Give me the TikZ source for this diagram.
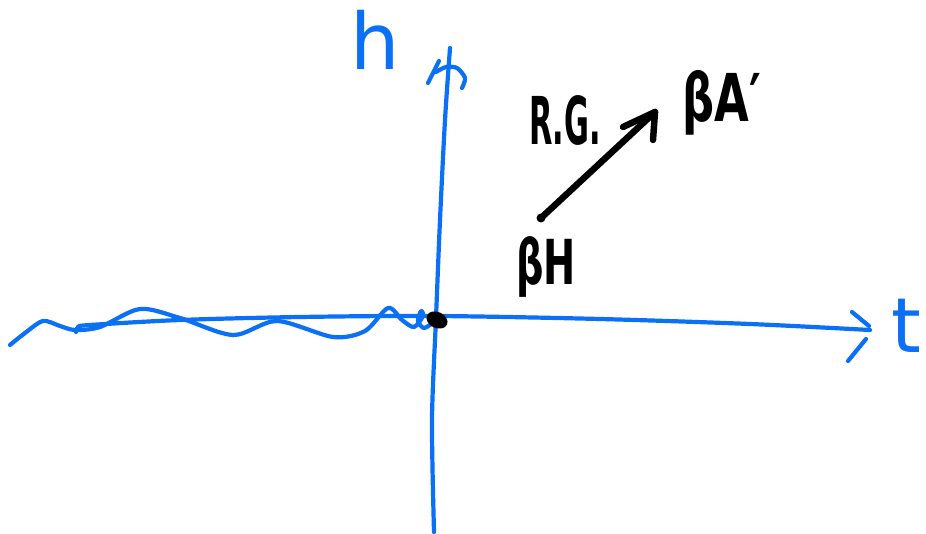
\documentclass[tikz,border=0pt]{standalone}
\usepackage{fontspec}
\setmainfont{DejaVu Sans}
\definecolor{pen}{RGB}{10,112,245}
\begin{document}
\begin{tikzpicture}[x=1pt,y=-1pt,
  bluestroke/.style={draw=pen,line width=4.2pt,line cap=round,line join=round},
  inkstroke/.style={draw=black,line width=6.5pt,line cap=round,line join=round},
  bluetext/.style={text=pen,inner sep=0pt,anchor=base},
  inktext/.style={text=black,inner sep=0pt,anchor=base}]
\useasboundingbox (0,0) rectangle (926,534);
% vertical axis
\draw[bluestroke] plot[smooth] coordinates {(450,48) (445,120) (440,220) (436,318) (432,420) (434,532)};
% mark at top of vertical axis
\draw[bluestroke] (428,83) -- (439,61);
\draw[bluestroke] plot[smooth] coordinates {(436,72) (446,67) (457,68) (465,78) (462,88)};
% horizontal axis
\draw[bluestroke] plot[smooth] coordinates {(76,332) (78,327) (90,325) (180,320) (300,317) (436,316) (600,319) (750,324) (870,330)};
\draw[bluestroke] (852,312) -- (869,326);
\draw[bluestroke] (866,339) -- (848,361);
% wavy line
\draw[bluestroke] plot[smooth] coordinates {(10,345) (25,333) (43,321) (60,326) (75,330) (100,327) (140,309) (180,318) (233,335) (277,321) (333,337) (365,331) (388,308) (402,320) (414,327) (423,316) (421,311) (418,321) (424,328) (434,322)};
% labels
\node[bluetext,font=\fontsize{78}{78}\selectfont] (hlab) at (375,70) {h};
\node[bluetext,font=\fontsize{76}{76}\selectfont] (tlab) at (906,353) {t};
% origin dot
\fill[black,rotate around={-25:(437,320)}] (437,320) ellipse (11 and 8);
% RG arrow
\coordinate (start) at (541,218);
\coordinate (tip) at (655,112);
\fill[black] (start) circle (4.5);
\draw[inkstroke] (start) -- (tip);
\draw[inkstroke] (tip) -- ++(-32,15);
\draw[inkstroke] (tip) -- ++(-2,28);
\node[inktext,font=\bfseries\fontsize{66}{66}\selectfont,xscale=0.46] (rg) at (565,145) {R.G.};
\node[inktext,font=\bfseries\fontsize{62}{62}\selectfont,xscale=0.62] (bh) at (546,285) {βH};
\node[inktext,font=\bfseries\fontsize{66}{66}\selectfont,xscale=0.68] (ba) at (722,122) {βA′};
\end{tikzpicture}
\end{document}
